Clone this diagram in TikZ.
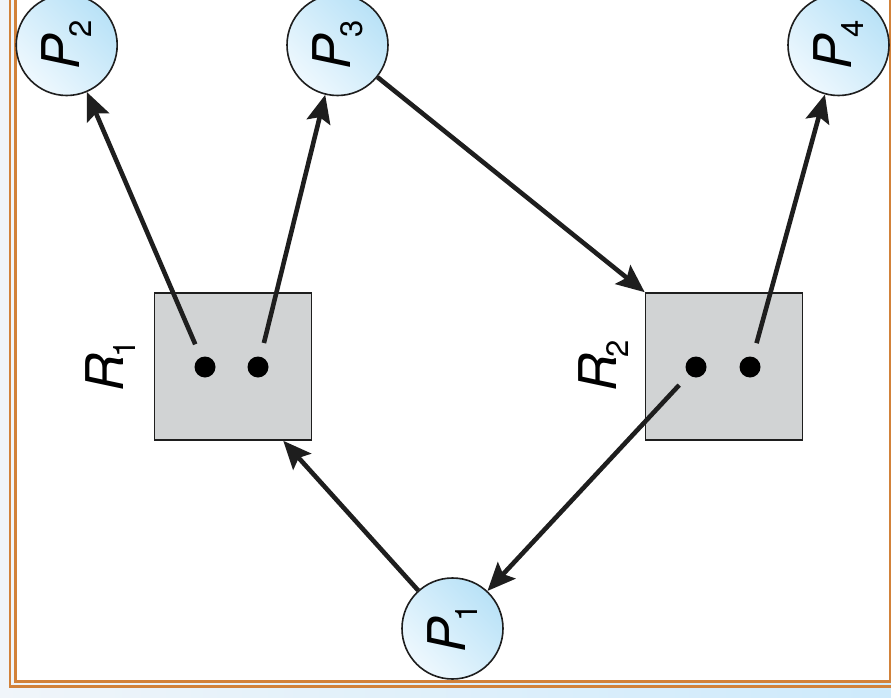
\documentclass[tikz,border=0pt]{standalone}
\usepackage{fontspec}
\setmainfont{TeX Gyre Heros}
\usetikzlibrary{arrows.meta,shadings}
\definecolor{frameor}{HTML}{D2823A}
\definecolor{bgl}{HTML}{F0F5FA}
\definecolor{bgr}{HTML}{CDEAFB}
\definecolor{plight}{HTML}{EEF8FE}
\definecolor{pdark}{HTML}{B9E2F7}
\definecolor{boxgray}{HTML}{D1D3D4}
\definecolor{ink}{HTML}{1E1E1E}
\newcommand{\mylab}[2]{{\fontsize{52}{52}\selectfont\itshape #1}\kern-3pt\raisebox{-12pt}{\fontsize{31}{31}\selectfont #2}}
\begin{document}
\begin{tikzpicture}[x=1pt,y=-1pt,
 proc/.style={circle, draw=ink, line width=1.6pt, minimum size=101pt, inner sep=0pt, top color=pdark, bottom color=plight, shading angle=-45},
 res/.style={rectangle, draw=ink, line width=1.6pt, fill=boxgray, minimum width=157pt, minimum height=147pt, inner sep=0pt},
 tok/.style={circle, fill=black, minimum size=21pt, inner sep=0pt},
 lbl/.style={rotate=90, inner sep=0pt},
 arr/.style={draw=ink, line width=4.6pt, -{Stealth[length=28pt,width=24pt,inset=5pt]}},
 fromtok/.style={arr, shorten <=14pt}]
\useasboundingbox (0,0) rectangle (891,698);
\fill[left color=bgl, right color=bgr] (0,0) rectangle (891,698);
\draw[frameor, line width=2.4pt] (9.8,-20) rectangle (896,686.6);
\draw[frameor, line width=2.4pt, fill=white] (15.3,-20) rectangle (890.3,681.4);
% resources
\node[res] (R1) at (233,366.5) {};
\node[res] (R2) at (724,366.5) {};
\node[tok] (r1a) at (205,367) {};
\node[tok] (r1b) at (258,367) {};
\node[tok] (r2a) at (696,367) {};
\node[tok] (r2b) at (750,367) {};
\node[lbl] (l1) at (111,366) {\mylab{R}{1}};
\node[lbl] (l2) at (604,366) {\mylab{R}{2}};
% processes
\node[proc] (P1) at (452.5,628.5) {\rotatebox{90}{\mylab{P}{1}}};
\node[proc] (P2) at (66.7,45) {\rotatebox{90}{\mylab{P}{2}}};
\node[proc] (P3) at (337.5,45) {\rotatebox{90}{\mylab{P}{3}}};
\node[proc] (P4) at (838.5,45) {\rotatebox{90}{\mylab{P}{4}}};
% edges
\draw[fromtok] (r1a) -- (P2);
\draw[fromtok] (r1b) -- (P3);
\draw[arr] (P3) -- (R2.north west);
\draw[fromtok] (r2b) -- (P4);
\draw[fromtok] (r2a) -- (P1);
\draw[arr] (P1) -- ([xshift=-29pt]R1.south east);
\end{tikzpicture}
\end{document}
